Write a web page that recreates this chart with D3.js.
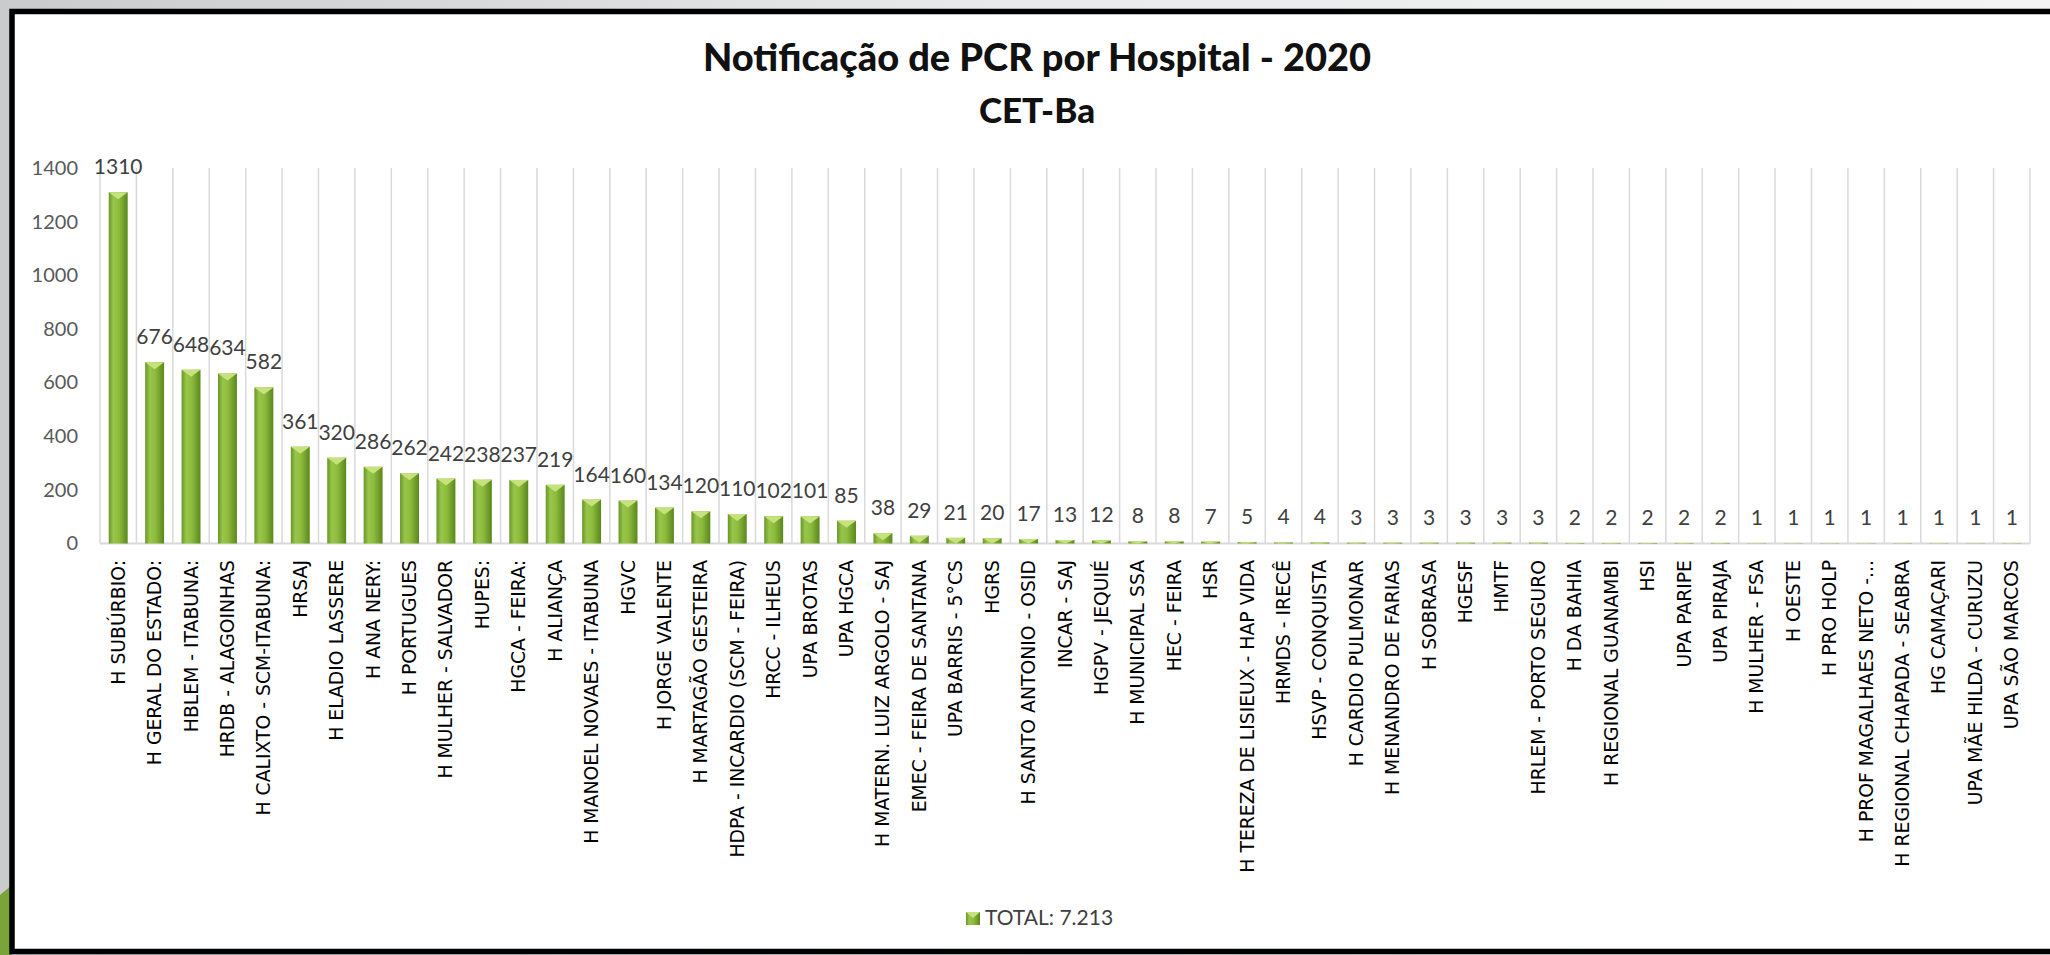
<!DOCTYPE html>
<html>
<head>
<meta charset="utf-8">
<script src="https://cdn.jsdelivr.net/npm/d3@7"></script>
<style>
  body { margin: 0; background: #e6e7e8; }
</style>
</head>
<body>
<script>

// Hospitals, in the order of the chart
var hospitals = ["H SUBÚRBIO:", "H GERAL DO ESTADO:", "HBLEM - ITABUNA:", "HRDB - ALAGOINHAS",
  "H CALIXTO - SCM-ITABUNA:", "HRSAJ", "H ELADIO LASSERE", "H ANA NERY:", "H PORTUGUES",
  "H MULHER - SALVADOR", "HUPES:", "HGCA - FEIRA:", "H ALIANÇA", "H MANOEL NOVAES - ITABUNA",
  "HGVC", "H JORGE VALENTE", "H MARTAGÃO GESTEIRA", "HDPA - INCARDIO (SCM - FEIRA)",
  "HRCC - ILHEUS", "UPA BROTAS", "UPA HGCA", "H MATERN. LUIZ ARGOLO - SAJ",
  "EMEC - FEIRA DE SANTANA", "UPA BARRIS - 5°CS", "HGRS", "H SANTO ANTONIO - OSID",
  "INCAR - SAJ", "HGPV - JEQUIÉ", "H MUNICIPAL SSA", "HEC - FEIRA", "HSR",
  "H TEREZA DE LISIEUX - HAP VIDA", "HRMDS - IRECÊ", "HSVP - CONQUISTA", "H CARDIO PULMONAR",
  "H MENANDRO DE FARIAS", "H SOBRASA", "HGESF", "HMTF", "HRLEM - PORTO SEGURO", "H DA BAHIA",
  "H REGIONAL GUANAMBI", "HSI", "UPA PARIPE", "UPA PIRAJA", "H MULHER - FSA", "H OESTE",
  "H PRO HOLP", "H PROF MAGALHAES NETO -...", "H REGIONAL CHAPADA - SEABRA", "HG CAMAÇARI",
  "UPA MÃE HILDA - CURUZU", "UPA SÃO MARCOS"]

// PCR notifications per hospital
var notifications = [1310, 676, 648, 634, 582, 361, 320, 286, 262, 242, 238, 237, 219, 164,
  160, 134, 120, 110, 102, 101, 85, 38, 29, 21, 20, 17, 13, 12, 8, 8, 7, 5, 4, 4, 3, 3, 3,
  3, 3, 3, 2, 2, 2, 2, 2, 1, 1, 1, 1, 1, 1, 1, 1]

var yTicks = [0, 200, 400, 600, 800, 1000, 1200, 1400]

var titleLines = ["Notificação de PCR por Hospital - 2020", "CET-Ba"]
var legendLabel = "TOTAL: 7.213"

// Build rows for the bars
var data = hospitals.map(function(h, i) {
  return {name: h, value: notifications[i]}
})

// Sizes
var svgW = 2050
var svgH = 955
var plotLeft = 100
var plotRight = 2030
var plotTop = 168
var plotBottom = 543.5

var svg = d3.select("body")
            .append("svg")
            .attr("width", svgW)
            .attr("height", svgH)

var defs = svg.append("defs")

// Grey slide background
var bgGrad = defs.append("linearGradient")
                 .attr("id", "bgGrad")
                 .attr("x1", "0").attr("y1", "0").attr("x2", "1").attr("y2", "0")
bgGrad.append("stop").attr("offset", "0%").attr("stop-color", "#c9cbcd")
bgGrad.append("stop").attr("offset", "50%").attr("stop-color", "#e9eaeb")
bgGrad.append("stop").attr("offset", "100%").attr("stop-color", "#f4f4f4")

// Bar gradient (cylinder like)
var barGrad = defs.append("linearGradient")
                  .attr("id", "barGrad")
                  .attr("x1", "0").attr("y1", "0").attr("x2", "1").attr("y2", "0")
barGrad.append("stop").attr("offset", "0%").attr("stop-color", "#6a9528")
barGrad.append("stop").attr("offset", "25%").attr("stop-color", "#98c64a")
barGrad.append("stop").attr("offset", "55%").attr("stop-color", "#8cbb3c")
barGrad.append("stop").attr("offset", "100%").attr("stop-color", "#5b861d")

svg.append("rect")
   .attr("width", svgW)
   .attr("height", svgH)
   .attr("fill", "url(#bgGrad)")

// Little green corner of the slide
svg.append("path")
   .attr("d", "M0,895 L12,885 L12,955 L0,955 Z")
   .attr("fill", "#7aa33a")

// White chart area with black frame
svg.append("rect")
   .attr("x", 12)
   .attr("y", 11.5)
   .attr("width", 2060)
   .attr("height", 940)
   .attr("fill", "white")
   .attr("stroke", "black")
   .attr("stroke-width", 5.5)

// Scales
var xScale = d3.scaleBand()
               .domain(hospitals)
               .range([plotLeft, plotRight])
               .paddingInner(0.48)
               .paddingOuter(0.24)

var yScale = d3.scaleLinear()
               .domain([0, 1400])
               .range([plotBottom, plotTop])

var step = xScale.step()

// Vertical gridlines between categories
var gridX = hospitals.map(function(h) {
  return xScale(h) - step * 0.24
})
gridX.push(plotRight)

svg.append("g")
   .selectAll("line")
   .data(gridX)
   .enter()
   .append("line")
     .attr("x1", function(d) { return d })
     .attr("x2", function(d) { return d })
     .attr("y1", plotTop)
     .attr("y2", plotBottom)
     .attr("stroke", "#d9d9d9")
     .attr("stroke-width", 1.5)

// Category axis line
svg.append("line")
   .attr("x1", plotLeft)
   .attr("x2", plotRight)
   .attr("y1", plotBottom)
   .attr("y2", plotBottom)
   .attr("stroke", "#d9d9d9")
   .attr("stroke-width", 2)

// Y axis labels
var yAxis = d3.axisLeft(yScale)
              .tickValues(yTicks)
              .tickFormat(d3.format("d"))
              .tickSize(0)
              .tickPadding(22)
svg.append("g")
   .attr("class", "y axis")
   .attr("transform", "translate(" + plotLeft + ",0)")
   .call(yAxis)
   .call(function(g) { g.select(".domain").remove() })
   .selectAll("text")
     .style("font-family", "Lato, 'Open Sans', sans-serif")
     .style("font-size", "20px")
     .attr("fill", "#595959")

// Bars
var bars = svg.append("g")
              .selectAll("g")
              .data(data)
              .enter()
              .append("g")

bars.append("rect")
    .attr("x", function(d) { return xScale(d.name) })
    .attr("y", function(d) { return yScale(d.value) })
    .attr("width", xScale.bandwidth())
    .attr("height", function(d) { return plotBottom - yScale(d.value) })
    .attr("fill", "url(#barGrad)")

// Light bevel on top of each bar
bars.append("path")
    .attr("d", function(d) {
      var x0 = xScale(d.name)
      var w = xScale.bandwidth()
      var top = yScale(d.value)
      var h = Math.min(7, plotBottom - top)
      return "M" + x0 + "," + top + " L" + (x0 + w) + "," + top +
             " L" + (x0 + w / 2) + "," + (top + h) + " Z"
    })
    .attr("fill", "#c6e27c")

// Value labels
bars.append("text")
    .attr("x", function(d) { return xScale(d.name) + xScale.bandwidth() / 2 })
    .attr("y", function(d) { return yScale(d.value) - 18 })
    .style("text-anchor", "middle")
    .style("font-family", "Lato, 'Open Sans', sans-serif")
    .style("font-size", "21px")
    .attr("fill", "#404040")
    .text(function(d) { return d.value })

// Category labels, rotated
svg.append("g")
   .selectAll("text")
   .data(hospitals)
   .enter()
   .append("text")
     .attr("transform", function(d) {
       return "translate(" + (xScale(d) + xScale.bandwidth() / 2 + 6.5) + ",560) rotate(-90)"
     })
     .style("text-anchor", "end")
     .style("font-family", "'DejaVu Sans', Verdana, sans-serif")
     .style("font-size", "18.8px")
     .attr("fill", "#000000")
     .text(function(d) { return d })

// Title
svg.append("g")
   .selectAll("text")
   .data(titleLines)
   .enter()
   .append("text")
     .attr("x", 1037)
     .attr("y", function(d, i) { return 71 + i * 52 })
     .style("text-anchor", "middle")
     .style("font-family", "Lato, 'Open Sans', sans-serif")
     .style("font-weight", "900")
     .style("font-size", function(d, i) { return i == 0 ? "38px" : "35px" })
     .attr("fill", "#111111")
     .text(function(d) { return d })

// Legend
var legend = svg.append("g")
                .attr("class", "legend")
                .attr("transform", "translate(966,912)")
legend.append("rect")
      .attr("width", 14)
      .attr("height", 13)
      .attr("fill", "url(#barGrad)")
legend.append("path")
      .attr("d", "M0,0 L14,0 L7,6 Z")
      .attr("fill", "#c6e27c")
legend.append("text")
      .attr("x", 19)
      .attr("y", 13)
      .style("font-family", "Lato, 'Open Sans', sans-serif")
      .style("font-size", "21px")
      .attr("fill", "#404040")
      .text(legendLabel)

</script>
</body>
</html>
